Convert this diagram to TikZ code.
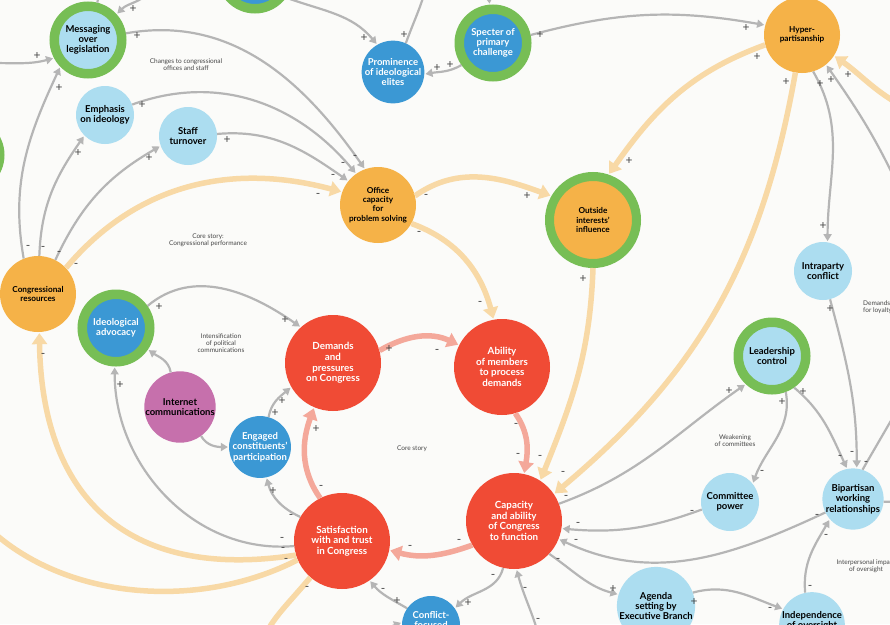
\documentclass[tikz,border=0pt]{standalone}
\usepackage{fontspec}
\setmainfont{Lato}
\usetikzlibrary{arrows.meta}

\definecolor{paper}{RGB}{251,251,249}
\definecolor{lblue}{RGB}{172,221,240}
\definecolor{mblue}{RGB}{59,152,212}
\definecolor{ringgreen}{RGB}{119,190,85}
\definecolor{orng}{RGB}{245,178,72}
\definecolor{redc}{RGB}{240,75,53}
\definecolor{purp}{RGB}{198,112,172}
\definecolor{obeige}{RGB}{248,217,166}
\definecolor{pinkc}{RGB}{244,168,154}
\definecolor{greyc}{RGB}{181,181,181}
\definecolor{signc}{RGB}{70,70,70}

\begin{document}
\begin{tikzpicture}[x=1pt,y=1pt]
            \tikzset{lbpoint/.style = {circle, fill=lblue, text=black, inner sep=0pt, minimum size=58pt, align=center, font=\bfseries\fontsize{9.5}{10.3}\selectfont}}
            \tikzset{mbpoint/.style = {circle, fill=mblue, text=white, inner sep=0pt, minimum size=58pt, align=center, font=\bfseries\fontsize{9.5}{10.3}\selectfont}}
            \tikzset{pppoint/.style = {circle, fill=purp, text=black, inner sep=0pt, minimum size=58pt, align=center, font=\bfseries\fontsize{9.5}{10.3}\selectfont}}
            \tikzset{ogpoint/.style = {circle, fill=orng, text=black, inner sep=0pt, minimum size=76pt, align=center, font=\bfseries\fontsize{8.2}{9.2}\selectfont}}
            \tikzset{rdpoint/.style = {circle, fill=redc, text=white, inner sep=0pt, minimum size=96pt, align=center, font=\bfseries\fontsize{9.8}{10.6}\selectfont}}
            \tikzset{ring/.style = {draw=ringgreen, line width=9.5pt, minimum size=67.5pt}}
            \tikzset{gline/.style = {draw=greyc, line width=2.2pt, shorten >=1pt, -{Triangle[length=7pt,width=8pt]}}}
            \tikzset{oline/.style = {draw=obeige, line width=5.5pt, shorten >=1pt, -{Triangle[length=11pt,width=15pt]}}}
            \tikzset{pline/.style = {draw=pinkc, line width=5.5pt, shorten >=1pt, -{Triangle[length=11pt,width=15pt]}}}
            \tikzset{sgn/.style = {text=signc, inner sep=0pt, font=\fontsize{12}{12}\selectfont}}
            \tikzset{note/.style = {text=signc, inner sep=0pt, align=center, font=\fontsize{6.5}{7.2}\selectfont}}

            \fill[paper] (0,0) rectangle (890,-624);
            \useasboundingbox (0,0) rectangle (890,-624);

            % nodes
            \node[lbpoint, ring] (leftg) at (-34,-155) {};
            \node[mbpoint, ring] (topg) at (255,25) {};
            \node[lbpoint, ring] (msg) at (88,-40) {Messaging\\over\\legislation};
            \node[lbpoint] (emph) at (105,-115) {Emphasis\\on ideology};
            \node[lbpoint] (staff) at (188,-136) {Staff\\turnover};
            \node[mbpoint] (prom) at (393,-72) {Prominence\\of ideological\\elites};
            \node[mbpoint, ring] (spec) at (493,-43) {Specter of\\primary\\challenge};
            \node[ogpoint] (hyper) at (802,-35) {Hyper-\\partisanship};
            \node[ogpoint] (office) at (378,-205) {Office\\capacity\\for\\problem solving};
            \node[ogpoint, ring, minimum size=87pt, line width=9pt] (outside) at (593,-220) {Outside\\interests'\\influence};
            \node[ogpoint] (cres) at (38,-294) {Congressional\\resources};
            \node[mbpoint, ring] (ideo) at (116,-328) {Ideological\\advocacy};
            \node[pppoint] (inet) at (180,-407) {Internet\\communications};
            \node[mbpoint] (engaged) at (260,-447) {Engaged\\constituents'\\participation};
            \node[rdpoint] (demands) at (333,-363) {Demands\\and\\pressures\\on Congress};
            \node[rdpoint] (ability) at (502,-367) {Ability\\of members\\to process\\demands};
            \node[rdpoint] (capac) at (514,-521) {Capacity\\and ability\\of Congress\\to function};
            \node[rdpoint] (satis) at (342,-541) {Satisfaction\\with and trust\\in Congress};
            \node[mbpoint] (conflict) at (431,-625) {Conflict-\\focused\\\mbox{}};
            \node[lbpoint] (agenda) at (656,-606) {Agenda\\setting by\\Executive Branch};
            \node[lbpoint] (indep) at (812,-625) {Independence\\of oversight\\\mbox{}};
            \node[lbpoint] (committee) at (730,-502) {Committee\\power};
            \node[lbpoint] (bipart) at (853,-499) {Bipartisan\\working\\relationships};
            \node[lbpoint, ring] (leader) at (772,-356) {Leadership\\control};
            \node[lbpoint] (intra) at (823,-271) {Intraparty\\conflict};

            % loose ends outside the frame
            \coordinate (inL) at (-10,-63);
            \coordinate (inT) at (150,8);
            \coordinate (upM) at (102,20);
            \coordinate (upP) at (428,25);
            \coordinate (inS) at (484,30);
            \coordinate (rtH1) at (900,-105);
            \coordinate (rtH2) at (900,-190);
            \coordinate (rtB1) at (900,-405);
            \coordinate (rtB2) at (900,-502);
            \coordinate (dnC) at (540,-640);
            \coordinate (lfC) at (370,-640);
            \coordinate (lfS) at (-15,-525);
            \coordinate (dnS) at (262,-640);

            % thick links
            \draw[oline] (cres.43) to[out=50,in=165] (office.160);
            \draw[oline] (office.14) to[out=35,in=160] (outside.150);
            \draw[oline] (office.-29) to[out=-20,in=105] (ability.100);
            \draw[oline] (hyper.195) to[out=200,in=55] (outside.71);
            \draw[oline] (outside.270) to[out=268,in=68] (capac.57);
            \draw[oline] (hyper.260) to[out=260,in=40] (capac.34);
            \draw[oline] (rtH1) to[out=150,in=-35] (hyper.-33);
            \draw[oline] (satis.197) .. controls (135,-580) and (42,-505) .. (cres.272);
            \draw[oline] (satis.203) .. controls (200,-610) and (70,-600) .. (lfS);
            \draw[oline] (satis.229) to[out=230,in=60] (dnS);

            \draw[pline] (demands.15) to[out=30,in=155] (ability.153);
            \draw[pline] (ability.-74) to[out=-55,in=80] (capac.78);
            \draw[pline] (capac.210) to[out=200,in=-15] (satis.-11);
            \draw[pline] (satis.117) to[out=125,in=250] (demands.247);

            % thin links
            \draw[gline] (inL) to[out=0,in=195] (msg.208);
            \draw[gline] (inT) to[out=225,in=45] (msg.42);
            \draw[gline] (msg.76) to[out=80,in=-100] (upM);
            \draw[gline] (msg.10) to[out=10,in=125] (office.110);
            \draw[gline] (emph.21) to[out=20,in=130] (office.125);
            \draw[gline] (staff.4) to[out=5,in=145] (office.141);
            \draw[gline] (cres.112) to[out=100,in=245] (msg.224);
            \draw[gline] (cres.88) to[out=88,in=235] (emph.225);
            \draw[gline] (cres.63) to[out=65,in=210] (staff.200);
            \draw[gline] (rtH2) to[out=115,in=-55] (hyper.-51);
            \draw[gline] (hyper.-73) to[out=-60,in=90] (intra.81);
            \draw[gline] (spec.12) to[out=15,in=170] (hyper.165);
            \draw[gline] (spec.215) to[out=210,in=10] (prom.-4);
            \draw[gline] (topg.-36) to[out=-20,in=130] (prom.120);
            \draw[gline] (prom.66) to[out=70,in=-100] (upP);
            \draw[gline] (inS) to[out=-85,in=95] (spec.95);
            \draw[gline] (intra.-76) to[out=-75,in=90] (bipart.83);
            \draw[gline] (leader.-55) to[out=-40,in=115] (bipart.101);
            \draw[gline] (leader.-69) to[out=-80,in=70] (committee.39);
            \draw[gline] (bipart.72) to[out=60,in=-120] (rtB1);
            \draw[gline] (bipart.-5) -- (rtB2);
            \draw[gline] (capac.21) to[out=20,in=215] (leader.227);
            \draw[gline] (committee.195) to[out=200,in=-5] (capac.-9);
            \draw[gline] (bipart.206) to[out=205,in=-25] (capac.-22);
            \draw[gline] (capac.-43) to[out=-35,in=165] (agenda.163);
            \draw[gline] (agenda.20) to[out=15,in=160] (indep.151);
            \draw[gline] (indep.102) to[out=95,in=240] (bipart.221);
            \draw[gline] (dnC) to[out=105,in=-75] (capac.-87);
            \draw[gline] (capac.-103) to[out=-105,in=45] (conflict.35);
            \draw[gline] (conflict.145) to[out=150,in=-50] (satis.-55);
            \draw[gline] (lfC) to[out=30,in=200] (conflict.175);
            \draw[gline] (satis.150) to[out=155,in=-75] (engaged.-78);
            \draw[gline] (engaged.74) to[out=80,in=220] (demands.210);
            \draw[gline] (inet.-54) to[out=-60,in=180] (engaged.180);
            \draw[gline] (inet.105) to[out=100,in=-35] (ideo.-34);
            \draw[gline] (satis.186) to[out=185,in=270] (ideo.268);
            \draw[gline] (ideo.35) to[out=40,in=145] (demands.132);

            % polarity marks
            \foreach \px/\py/\sg [count=\i] in {37/56/+, 133/9/+, 137/36/+, 355/157/-, 142/105/+, 343/164/-,
                227/140/+, 333/176/-, 28/247/-, 59/88/+, 43/248/-, 78/153/+, 59/253/-, 149/158/+,
                76/265/-, 318/195/-, 426/196/-, 527/196/+, 419/233/-, 480/303/-, 757/57/+, 629/161/+,
                583/279/+, 540/457/-, 786/82/+, 563/473/-, 848/75/+, 831/80/+, 820/84/+, 823/226/+,
                540/35/+, 746/28/+, 450/65/+, 437/68/+, 364/38/+, 404/35/+, 830/309/+, 852/453/-,
                803/392/+, 840/457/-, 782/402/+, 762/472/-, 866/463/-, 566/497/-, 729/391/+,
                692/512/-, 578/524/-, 817/516/-, 576/541/-, 558/560/-, 613/589/+, 694/602/+, 770/609/-,
                810/587/-, 826/536/-, 525/589/-, 538/620/-, 493/576/-, 468/603/+, 397/601/+, 383/590/-,
                389/349/+, 437/351/-, 516/425/-, 518/455/-, 459/541/-, 410/547/-, 321/487/-, 316/429/+,
                291/516/-, 273/491/+, 275/413/+, 282/401/+, 120/385/+, 159/307/+, 285/320/+, 43/355/-,
                282/539/-, 283/549/-, 286/560/-, 307/588/-}
                \node[sgn] (s\i) at (\px,-\py) {\sg};

            % captions
            \node[note] (n1) at (186,-65) {Changes to congressional\\offices and staff};
            \node[note] (n2) at (208,-240) {Core story:\\Congressional performance};
            \node[note] (n3) at (221,-343) {Intensification\\of political\\communications};
            \node[note] (n4) at (412,-449) {Core story};
            \node[note] (n5) at (735,-441) {Weakening\\of committees};
            \node[note, align=left, anchor=west] (n6) at (863,-307) {Demands\\for loyalty};
            \node[note] (n7) at (866,-566) {Interpersonal impact\\of oversight};

        \end{tikzpicture}
\end{document}
